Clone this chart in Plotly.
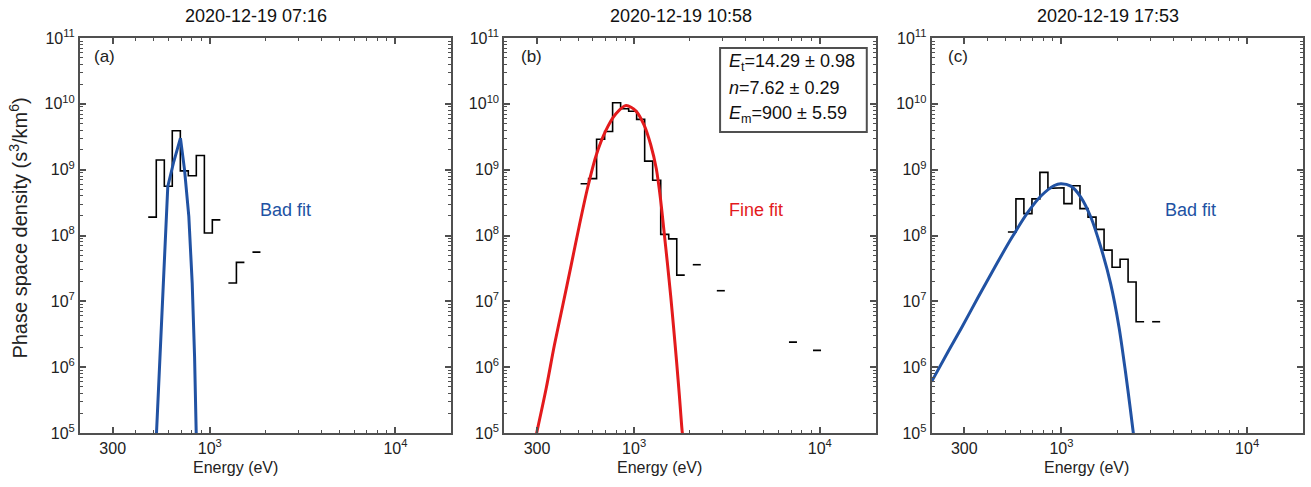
import plotly.graph_objects as go

# ---------------- data ----------------
titles = ["2020-12-19 07:16", "2020-12-19 10:58", "2020-12-19 17:53"]
panel_labels = ["(a)", "(b)", "(c)"]
fit_labels = ["Bad fit", "Fine fit", "Bad fit"]

# energy bin edges (eV), common to all panels
energy_edges = [466, 515, 569, 628, 694, 766, 846, 935, 1032, 1140, 1259, 1391,
                1536, 1697, 1874, 2070, 2286, 2525, 2789, 3080, 3402, 3758, 4150,
                4584, 5063, 5592, 6177, 6822, 7535, 8323, 9193, 10154]

N = None
# measured phase space density per bin (s^3/km^6); None = no data
psd_a = [1.9e8, 1.4e9, 5.6e8, 3.9e9, 9.6e8, 8.1e8, 1.64e9, 1.09e8, 1.73e8, N,
         1.9e7, 3.9e7, N, 5.6e7, N, N, N, N, N, N, N, N, N, N, N, N, N, N, N, N, N]
psd_b = [N, 6.1e8, 7.3e8, 2.9e9, 3.8e9, 1.04e10, 8.4e9, 7.7e9, 5.8e9, 1.35e9,
         6.9e8, 1.04e8, 8.9e7, 2.5e7, N, 3.6e7, N, N, 1.45e7, N, N, N, N, N, N,
         N, N, 2.4e6, N, N, 1.8e6]
psd_c = [N, 1.13e8, 3.6e8, 2.15e8, 3.6e8, 9.1e8, 5.2e8, 5.3e8, 3.05e8, 5.7e8,
         2.56e8, 1.9e8, 1.24e8, 6.0e7, 3.3e7, 4.35e7, 1.97e7, 4.9e6, N, 4.9e6,
         N, N, N, N, N, N, N, N, N, N, N]

# fitted curves
fit_a_E = [515, 543, 570, 594, 640, 695, 731, 771, 804, 828, 846]
fit_a_f = [8.5e4, 1.83e6, 3.8e7, 5.56e8, 1.33e9, 3.02e9, 1.0e9, 1.95e8, 1.89e7, 1.45e6, 8.5e4]

fit_b_E = [296, 336, 372, 413, 458, 507, 562, 624, 705, 798, 905, 1021, 1131, 1229,
           1317, 1387, 1448, 1512, 1573, 1633, 1694, 1754, 1816, 1831]
fit_b_f = [8.9e4, 4.73e5, 2.15e6, 8.7e6, 3.52e7, 1.42e8, 5.31e8, 1.63e9, 3.94e9,
           7.05e9, 9.43e9, 7.83e9, 4.80e9, 2.39e9, 1.03e9, 3.62e8, 1.18e8, 3.73e7,
           1.23e7, 3.92e6, 1.20e6, 3.64e5, 1.04e5, 8.9e4]

fit_c_E = [200, 246, 290, 356, 437, 536, 659, 776, 916, 993, 1125, 1271, 1439, 1629,
           1841, 2042, 2213, 2355, 2452]
fit_c_f = [6.03e5, 1.74e6, 3.98e6, 1.15e7, 3.27e7, 8.91e7, 2.24e8, 3.98e8, 5.75e8,
           6.12e8, 5.62e8, 3.84e8, 1.91e8, 6.7e7, 1.86e7, 4.09e6, 8.5e5, 2.22e5, 8.9e4]

fit_params = ["<i>E</i><sub>t</sub>=14.29 ± 0.98",
              "<i>n</i>=7.62 ± 0.29",
              "<i>E</i><sub>m</sub>=900 ± 5.59"]

x_tickvals = [300, 1000, 10000]
x_ticktext = ["300", "10<sup>3</sup>", "10<sup>4</sup>"]
y_tickvals = [1e5, 1e6, 1e7, 1e8, 1e9, 1e10, 1e11]
y_ticktext = ["10<sup>%d</sup>" % p for p in range(5, 12)]

# ---------------- styling ----------------
FONT = "Liberation Sans, Arial, sans-serif"
FRAME = "#505050"
BLUE = "#2152A3"
RED = "#E31A1C"
BLACK = "#000000"

def stairs(edges, vals):
    xs, ys = [], []
    prev = None
    for i, v in enumerate(vals):
        if v is None:
            if prev is not None:
                xs.append(None); ys.append(None)
            prev = None
            continue
        xs.append(edges[i]); ys.append(v)
        xs.append(edges[i + 1]); ys.append(v)
        prev = v
    return xs, ys

x_minor = [200, 400, 500, 600, 700, 800, 900, 2000, 3000, 4000, 5000, 6000,
           7000, 8000, 9000, 20000]
y_minor = [m * 10 ** p for p in range(5, 11) for m in range(2, 10)]

domains = [[0.0, 0.30367], [0.34694, 0.65061], [0.69633, 1.0]]

fig = go.Figure()

psds = [psd_a, psd_b, psd_c]
fits = [(fit_a_E, fit_a_f, BLUE, "linear"),
        (fit_b_E, fit_b_f, RED, "spline"),
        (fit_c_E, fit_c_f, BLUE, "spline")]

for i in range(3):
    xa = "x" if i == 0 else "x%d" % (i + 1)
    ya = "y" if i == 0 else "y%d" % (i + 1)
    hx, hy = stairs(energy_edges, psds[i])
    fig.add_trace(go.Scatter(x=hx, y=hy, mode="lines", xaxis=xa, yaxis=ya,
                             line=dict(color=BLACK, width=1.6), connectgaps=False,
                             showlegend=False, hoverinfo="skip"))
    fe, ff, col, shp = fits[i]
    fig.add_trace(go.Scatter(x=fe, y=ff, mode="lines", xaxis=xa, yaxis=ya,
                             line=dict(color=col, width=3, shape=shp, smoothing=0.8),
                             showlegend=False, hoverinfo="skip"))

common = dict(type="log", showline=True, linecolor=FRAME, linewidth=2,
              mirror="allticks", ticks="inside", ticklen=6, tickwidth=1.5,
              tickcolor=FRAME, showgrid=False, zeroline=False,
              tickfont=dict(family=FONT, size=16, color="#222222"))

layout = dict(width=1311, height=487, paper_bgcolor="white", plot_bgcolor="white",
              margin=dict(l=80, r=6, t=38, b=54), showlegend=False,
              font=dict(family=FONT, size=16, color="#222222"))

for i in range(3):
    xk = "xaxis" if i == 0 else "xaxis%d" % (i + 1)
    yk = "yaxis" if i == 0 else "yaxis%d" % (i + 1)
    ya = "y" if i == 0 else "y%d" % (i + 1)
    xa = "x" if i == 0 else "x%d" % (i + 1)
    layout[xk] = dict(common, domain=domains[i], anchor=ya,
                      range=[2.30103, 4.30103], tickmode="array",
                      tickvals=x_tickvals, ticktext=x_ticktext,
                      minor=dict(ticks="inside", ticklen=3, tickwidth=1,
                                 tickcolor=FRAME, tickmode="array",
                                 tickvals=x_minor, showgrid=False))
    layout[yk] = dict(common, domain=[0, 1], anchor=xa, range=[5, 11],
                      tickmode="array", tickvals=y_tickvals, ticktext=y_ticktext,
                      minor=dict(ticks="inside", ticklen=3, tickwidth=1,
                                 tickcolor=FRAME, tickmode="array",
                                 tickvals=y_minor, showgrid=False))

fig.update_layout(**layout)

annotations = []
label_x = [0.032, 0.040, 0.040]
fit_x = [0.4785, 0.5995, 0.6237]
fit_col = [BLUE, RED, BLUE]
for i in range(3):
    xa = "x" if i == 0 else "x%d" % (i + 1)
    ya = "y" if i == 0 else "y%d" % (i + 1)
    annotations.append(dict(xref=xa + " domain", yref=ya + " domain", x=0.475, y=1.0557,
                            text=titles[i], showarrow=False, xanchor="center",
                            yanchor="middle", font=dict(family=FONT, size=18, color="#111111")))
    annotations.append(dict(xref=xa + " domain", yref=ya + " domain", x=0.418, y=-0.0886,
                            text="Energy (eV)", showarrow=False, xanchor="center",
                            yanchor="middle", font=dict(family=FONT, size=16, color="#222222")))
    annotations.append(dict(xref=xa + " domain", yref=ya + " domain", x=label_x[i], y=0.954,
                            text=panel_labels[i], showarrow=False, xanchor="left",
                            yanchor="middle", font=dict(family=FONT, size=17, color="#222222")))
    annotations.append(dict(xref=xa + " domain", yref=ya + " domain", x=fit_x[i], y=0.5646,
                            text=fit_labels[i], showarrow=False, xanchor="left",
                            yanchor="middle", font=dict(family=FONT, size=18, color=fit_col[i])))

annotations.append(dict(xref="paper", yref="y domain", x=-0.0502, y=0.519,
                        text="Phase space density (s<sup>3</sup>/km<sup>6</sup>)",
                        textangle=-90, showarrow=False, xanchor="center", yanchor="middle",
                        font=dict(family=FONT, size=20, color="#222222")))

for j, (txt, yy) in enumerate(zip(fit_params, [0.939, 0.873, 0.806])):
    annotations.append(dict(xref="x2 domain", yref="y2 domain", x=0.600, y=yy, text=txt,
                            showarrow=False, xanchor="left", yanchor="middle",
                            font=dict(family=FONT, size=18, color="#111111")))

fig.update_layout(annotations=annotations)
fig.add_shape(type="rect", xref="x2 domain", yref="y2 domain", x0=0.581, x1=0.976,
              y0=0.762, y1=0.975, line=dict(color=FRAME, width=2), fillcolor="white",
              layer="above")

fig.write_html("out.html")
